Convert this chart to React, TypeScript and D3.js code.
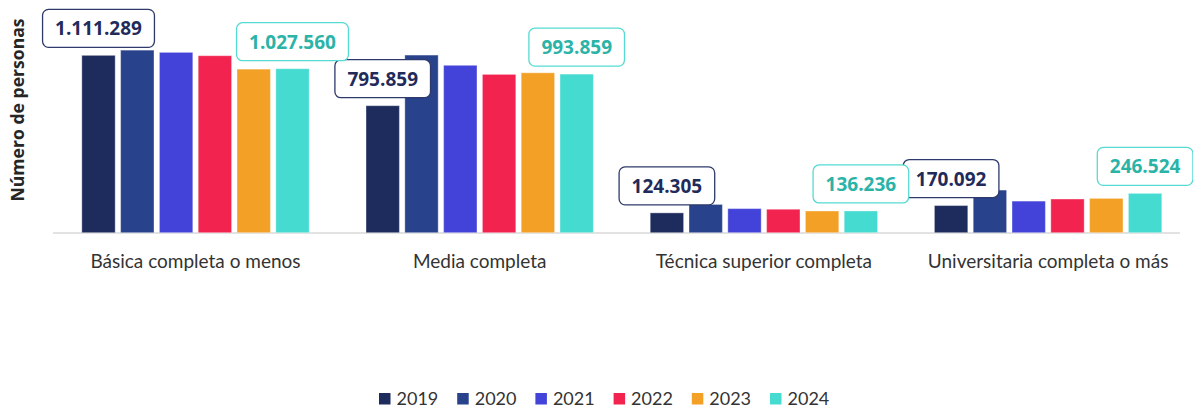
import React, { useRef, useEffect } from "react";
import * as d3 from "d3";

const categories = [
  "Básica completa o menos",
  "Media completa",
  "Técnica superior completa",
  "Universitaria completa o más",
];
const years = ["2019", "2020", "2021", "2022", "2023", "2024"];
const values2019 = [1111289, 795859, 124305, 170092];
const values2020 = [1144000, 1113000, 177000, 267000];
const values2021 = [1130000, 1049000, 151000, 198000];
const values2022 = [1109000, 992000, 147000, 211000];
const values2023 = [1025000, 1002000, 136000, 215000];
const values2024 = [1027560, 993859, 136236, 246524];
const seriesValues = [values2019, values2020, values2021, values2022, values2023, values2024];
const colors = ["#1d2c5c", "#28428b", "#4343d9", "#f2234f", "#f2a026", "#45dbd1"];

const W = 1193;
const H = 409;

const fmt = (v: number) => d3.format(",")(v).replace(/,/g, ".");

const App = () => {
  const ref = useRef<SVGSVGElement>(null);

  useEffect(() => {
    document.body.style.margin = "0";
    const svg = d3.select(ref.current);
    svg.selectAll("*").remove();

    const x0 = d3
      .scaleBand()
      .domain(categories)
      .range([53.4, 1190.2])
      .paddingInner(0.2)
      .paddingOuter(0.1);
    const x1 = d3
      .scaleBand()
      .domain(years)
      .range([0, x0.bandwidth()])
      .paddingInner(0.14)
      .paddingOuter(0);
    const y = d3.scaleLinear().domain([0, 1200000]).range([232.7, 41.2]);

    const rows = categories.flatMap((c, i) =>
      years.map((yr, j) => ({ cat: c, year: yr, value: seriesValues[j][i], color: colors[j] }))
    );

    // baseline
    svg
      .append("line")
      .attr("x1", 53)
      .attr("x2", 1180)
      .attr("y1", 233)
      .attr("y2", 233)
      .attr("stroke", "#d9d9d9")
      .attr("stroke-width", 1.5);

    svg
      .append("g")
      .selectAll("rect")
      .data(rows)
      .enter()
      .append("rect")
      .attr("x", (d) => x0(d.cat)! + x1(d.year)!)
      .attr("y", (d) => y(d.value))
      .attr("width", x1.bandwidth())
      .attr("height", (d) => y(0) - y(d.value))
      .attr("fill", (d) => d.color)
      .attr("stroke", "rgba(255,255,255,0.35)")
      .attr("stroke-width", 1);

    // category labels
    svg
      .append("g")
      .selectAll("text")
      .data(categories)
      .enter()
      .append("text")
      .attr("x", (d) => x0(d)! + x0.bandwidth() / 2)
      .attr("y", 268)
      .attr("text-anchor", "middle")
      .attr("font-family", "Lato")
      .attr("font-size", 19)
      .attr("fill", "#333")
      .text((d) => d);

    // y axis title
    svg
      .append("text")
      .attr("transform", "translate(24,110) rotate(-90)")
      .attr("text-anchor", "middle")
      .attr("font-family", "Open Sans")
      .attr("font-weight", "bold")
      .attr("font-size", 17.6)
      .attr("fill", "#262626")
      .text("Número de personas");

    // value callouts for 2019 and 2024
    const callouts = [
      { year: "2019", vals: values2019, text: "#1f2b5b", border: "#2e3a6b" },
      { year: "2024", vals: values2024, text: "#2bb3a8", border: "#55dbd2" },
    ];
    const lg = svg.append("g");
    callouts.forEach((c) => {
      categories.forEach((cat, i) => {
        const cx = x0(cat)! + x1(c.year)! + x1.bandwidth() / 2;
        const bottom = y(c.vals[i]) - 8;
        const bh = 38;
        const g = lg.append("g");
        const rect = g.append("rect");
        const t = g
          .append("text")
          .attr("x", cx)
          .attr("y", bottom - bh / 2 + 7)
          .attr("text-anchor", "middle")
          .attr("font-family", "Open Sans")
          .attr("font-weight", "bold")
          .attr("font-size", 19)
          .attr("fill", c.text)
          .text(fmt(c.vals[i]));
        const tw = (t.node() as SVGTextElement).getComputedTextLength();
        const bw = tw + 25;
        rect
          .attr("x", cx - bw / 2)
          .attr("y", bottom - bh)
          .attr("width", bw)
          .attr("height", bh)
          .attr("rx", 6)
          .attr("fill", "#fff")
          .attr("stroke", c.border)
          .attr("stroke-width", 1.3);
      });
    });

    // legend
    const legend = svg.append("g").attr("transform", "translate(379,393)");
    years.forEach((yr, i) => {
      const item = legend.append("g").attr("transform", `translate(${i * 78.2},0)`);
      item.append("rect").attr("width", 11.5).attr("height", 11.5).attr("fill", colors[i]);
      item
        .append("text")
        .attr("x", 17.5)
        .attr("y", 12)
        .attr("font-family", "Lato")
        .attr("font-size", 18)
        .attr("fill", "#333")
        .text(yr);
    });
  }, []);

  return <svg ref={ref} width={W} height={H} style={{ display: "block" }} />;
};

export default App;
